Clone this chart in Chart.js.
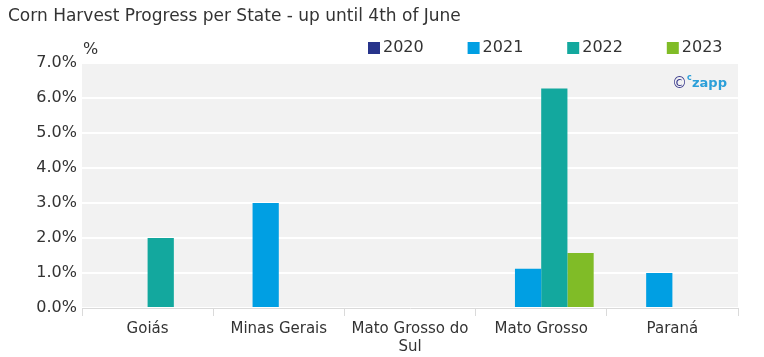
<!DOCTYPE html>
<html><head><meta charset="utf-8">
<script src="https://cdn.jsdelivr.net/npm/chart.js@4/dist/chart.umd.min.js"></script>
<style>html,body{margin:0;padding:0;background:#fff}#wrap{width:764px;height:357px}</style>
</head><body><div id="wrap"><canvas id="c" width="764" height="357"></canvas></div>
<script>
const titleText = 'Corn Harvest Progress per State - up until 4th of June';
const categories = ['Goiás', 'Minas Gerais', ['Mato Grosso do', 'Sul'], 'Mato Grosso', 'Paraná'];
const seriesNames = ['2020', '2021', '2022', '2023'];
const values2020 = [null, null, null, null, null];
const values2021 = [null, 3.0, null, 1.12, 1.0];
const values2022 = [2.0, null, null, 6.27, null];
const values2023 = [null, null, null, 1.57, null];
const yTickValues = [0, 1, 2, 3, 4, 5, 6, 7];
const seriesColors = ['#27348b', '#009fe3', '#13a89e', '#80bc27'];

const FONT = 'DejaVu Sans';
const seriesValues = [values2020, values2021, values2022, values2023];

const bgPlugin = {
  id: 'bg',
  beforeDraw(chart) {
    const {ctx, chartArea: a} = chart;
    ctx.save();
    ctx.fillStyle = '#f2f2f2';
    ctx.fillRect(a.left, a.top, a.right - a.left, a.bottom - a.top);
    ctx.restore();
  },
  afterDraw(chart) {
    const {ctx} = chart;
    ctx.save();
    // unit label
    ctx.fillStyle = '#333';
    ctx.font = '16px "' + FONT + '"';
    ctx.textBaseline = 'middle';
    ctx.textAlign = 'left';
    ctx.fillText('%', 83, 50);
    // legend
    ctx.font = '16px "' + FONT + '"';
    chart.data.datasets.forEach((ds, i) => {
      const x = 368 + i * 99.6;
      ctx.fillStyle = ds.backgroundColor;
      ctx.fillRect(x, 42, 12, 12);
      ctx.fillStyle = '#333';
      ctx.fillText(ds.label, x + 15, 48);
    });
    // watermark
    ctx.textBaseline = 'alphabetic';
    ctx.fillStyle = '#3a3a8c';
    ctx.font = '15px "' + FONT + '"';
    ctx.fillText('\u00a9', 672, 88);
    ctx.fillStyle = '#2b9fd9';
    ctx.font = 'bold 8px "' + FONT + '"';
    ctx.fillText('c', 687, 80);
    ctx.font = 'bold 13px "' + FONT + '"';
    ctx.fillText('zapp', 692, 87);
    ctx.restore();
  }
};

new Chart(document.getElementById('c'), {
  type: 'bar',
  data: {
    labels: categories,
    datasets: seriesNames.map((n, i) => ({
      label: n,
      data: seriesValues[i],
      backgroundColor: seriesColors[i],
      borderWidth: 0,
      categoryPercentage: 0.8,
      barPercentage: 1.0
    }))
  },
  options: {
    responsive: false,
    animation: false,
    devicePixelRatio: 1,
    layout: {padding: {left: 8, right: 26, top: 0, bottom: 0}},
    scales: {
      x: {
        grid: {offset: true, drawOnChartArea: false, color: '#dadada', tickLength: 8},
        border: {color: '#dadada'},
        ticks: {font: {family: FONT, size: 15}, color: '#333', padding: 4, maxRotation: 0, autoSkip: false},
        afterFit: s => { s.height = 49; }
      },
      y: {
        min: 0, max: 7,
        afterBuildTicks: s => { s.ticks = yTickValues.map(v => ({value: v})); },
        grid: {color: '#ffffff', lineWidth: 2, drawTicks: false},
        border: {display: false},
        ticks: {font: {family: FONT, size: 16}, color: '#333', padding: 5, callback: v => v.toFixed(1) + '%'},
        afterFit: s => { s.width = 74; }
      }
    },
    plugins: {
      legend: {display: false},
      tooltip: {enabled: false},
      title: {
        display: true, text: titleText, align: 'start', color: '#333',
        font: {family: FONT, size: 17, weight: 'normal', lineHeight: 1.2},
        padding: {top: 6, bottom: 36.6}
      }
    }
  },
  plugins: [bgPlugin]
});
</script></body></html>
